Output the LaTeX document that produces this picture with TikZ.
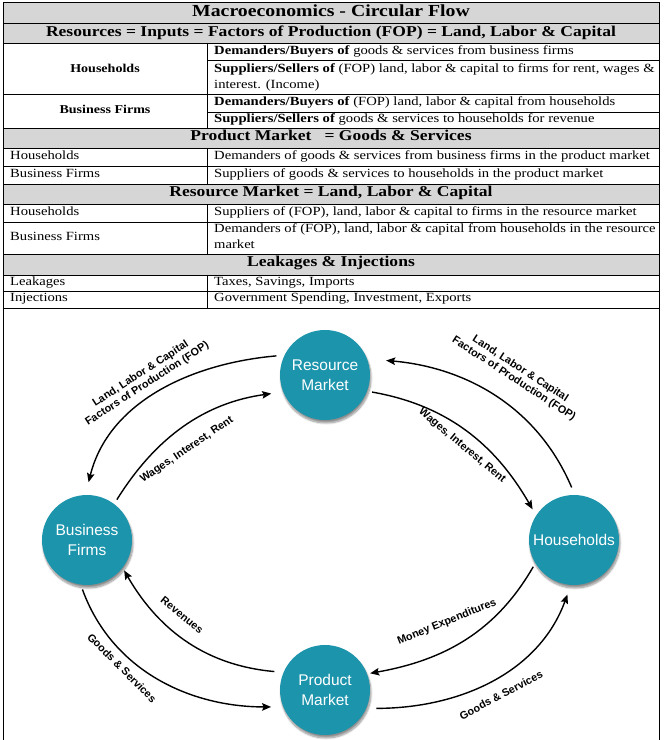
\documentclass[tikz,border=0pt]{standalone}
\usepackage{fontspec}
\setmainfont{Liberation Serif}[FakeStretch=1.17]
\newfontfamily\arialf{Liberation Sans}
\usetikzlibrary{arrows.meta,shadows.blur}
\definecolor{tealc}{RGB}{28,148,172}
\definecolor{hdrgray}{RGB}{214,214,214}
\begin{document}
\begin{tikzpicture}[x=1pt,y=1pt,
  grid/.style={line width=0.8pt,black},
  hdrfill/.style={fill=hdrgray,draw=none},
  titletext/.style={inner sep=0pt,anchor=mid,font=\bfseries\fontsize{16.9}{19}\selectfont},
  headtext/.style={inner sep=0pt,anchor=mid,font=\bfseries\fontsize{15}{18}\selectfont},
  celltext/.style={inner sep=0pt,anchor=mid west,font=\fontsize{12.5}{15}\selectfont},
  celltextc/.style={inner sep=0pt,anchor=mid,font=\bfseries\fontsize{12}{15}\selectfont},
  sector/.style={circle,fill=tealc,minimum size=90pt,inner sep=0pt,text=white,align=center,
     font=\arialf\fontsize{15.5}{20}\selectfont,
     blur shadow={shadow blur steps=10,shadow xshift=1pt,shadow yshift=-3pt,shadow opacity=45}},
  flow/.style={line width=1.4pt,-{Stealth[length=9pt,width=7.5pt,inset=1.5pt]}},
  flowlabel/.style={inner sep=0pt,align=center,font=\arialf\bfseries\fontsize{10.8}{12}\selectfont}
]
\useasboundingbox (0,0) rectangle (664,740);
% header fills
\fill[hdrfill] (3,738) rectangle (659,697);
\fill[hdrfill] (3,612) rectangle (659,592);
\fill[hdrfill] (3,556) rectangle (659,535.5);
\fill[hdrfill] (3,486) rectangle (659,465);
% grid lines
\draw[grid] (3,0) -- (3,738) -- (659,738) -- (659,0);
\foreach \yy in {716.5,697,645.5,612,592,573.5,556,535.5,518,486,465,448.5,432}
  \draw[grid] (3,\yy) -- (659,\yy);
\draw[grid] (207,679.5) -- (659,679.5);
\draw[grid] (207,628) -- (659,628);
\draw[grid] (207,697) -- (207,612);
\draw[grid] (207,592) -- (207,556);
\draw[grid] (207,535.5) -- (207,486);
\draw[grid] (207,465) -- (207,432);
% texts
\node[titletext] (title) at (331,726) {Macroeconomics - Circular Flow};
\node[headtext] (h1) at (331,706) {Resources = Inputs = Factors of Production (FOP) = Land, Labor \& Capital};
\node[celltextc] (hh1) at (105,670) {Households};
\node[celltext] (r1) at (214,688) {\textbf{Demanders/Buyers of} goods \& services from business firms};
\node[celltext] (r2) at (214,670) {\textbf{Suppliers/Sellers of} (FOP) land, labor \& capital to firms for rent, wages \&};
\node[celltext] (r3) at (214,654) {interest. (Income)};
\node[celltextc] (bf1) at (105,629) {Business Firms};
\node[celltext] (r4) at (214,637) {\textbf{Demanders/Buyers of} (FOP) land, labor \& capital from households};
\node[celltext] (r5) at (214,620) {\textbf{Suppliers/Sellers of} goods \& services to households for revenue};
\node[headtext] (h2) at (331,602) {Product Market\ \ \ = Goods \& Services};
\node[celltext] (hh2) at (10,583) {Households};
\node[celltext] (r6) at (214,583) {Demanders of goods \& services from business firms in the product market};
\node[celltext] (bf2) at (10,564.5) {Business Firms};
\node[celltext] (r7) at (214,564.5) {Suppliers of goods \& services to households in the product market};
\node[headtext] (h3) at (331,545.7) {Resource Market = Land, Labor \& Capital};
\node[celltext] (hh3) at (10,526.7) {Households};
\node[celltext] (r8) at (214,526.7) {Suppliers of (FOP), land, labor \& capital to firms in the resource market};
\node[celltext] (bf3) at (10,501.3) {Business Firms};
\node[celltext] (r9) at (214,510) {Demanders of (FOP), land, labor \& capital from households in the resource};
\node[celltext] (r10) at (214,493.3) {market};
\node[headtext] (h4) at (331,475.7) {Leakages \& Injections};
\node[celltext] (lk) at (10,456.7) {Leakages};
\node[celltext] (lkv) at (214,456.7) {Taxes, Savings, Imports};
\node[celltext] (inj) at (10,440.7) {Injections};
\node[celltext] (injv) at (214,440.7) {Government Spending, Investment, Exports};
% diagram
\node[sector] (rm) at (325,365) {Resource\\Market};
\node[sector] (bf) at (87,200) {Business\\Firms};
\node[sector] (hh) at (574,200) {Households};
\node[sector] (pm) at (325,50) {Product\\Market};
\draw[flow,shorten <=8pt,shorten >=13pt] (rm.154) to[out=185,in=76] (bf.92);
\draw[flow,shorten <=5pt,shorten >=12pt] (bf.53) to[out=58,in=188] (rm.202);
\draw[flow,shorten <=8pt,shorten >=19pt] (hh.89) to[out=113,in=355] (rm.21);
\draw[flow,shorten <=5pt,shorten >=7pt] (rm.339) to[out=-10,in=120] (hh.147);
\draw[flow,shorten <=9pt,shorten >=3pt] (pm.157) to[out=175,in=300] (bf.322);
\draw[flow,shorten <=5pt,shorten >=12pt] (bf.262) to[out=-70,in=180] (pm.202);
\draw[flow,shorten <=4pt,shorten >=3pt] (hh.211) to[out=240,in=10] (pm.21);
\draw[flow,shorten <=10pt,shorten >=10pt] (pm.336) to[out=0,in=250] (hh.266);
\node[flowlabel,rotate=33] (l1) at (144,361) {Land, Labor \& Capital\\Factors of Production (FOP)};
\node[flowlabel,rotate=34] (l2) at (187,290) {Wages, Interest, Rent};
\node[flowlabel,rotate=-33] (l3) at (517,366) {Land, Labor \& Capital\\Factors of Production (FOP)};
\node[flowlabel,rotate=-40] (l4) at (462,294) {Wages, Interest, Rent};
\node[flowlabel,rotate=-39] (l5) at (182,125) {Revenues};
\node[flowlabel,rotate=-45] (l6) at (122,72) {Goods \& Services};
\node[flowlabel,rotate=22] (l7) at (447,118) {Money Expenditures};
\node[flowlabel,rotate=28] (l8) at (501,45) {Goods \& Services};
\end{tikzpicture}
\end{document}
